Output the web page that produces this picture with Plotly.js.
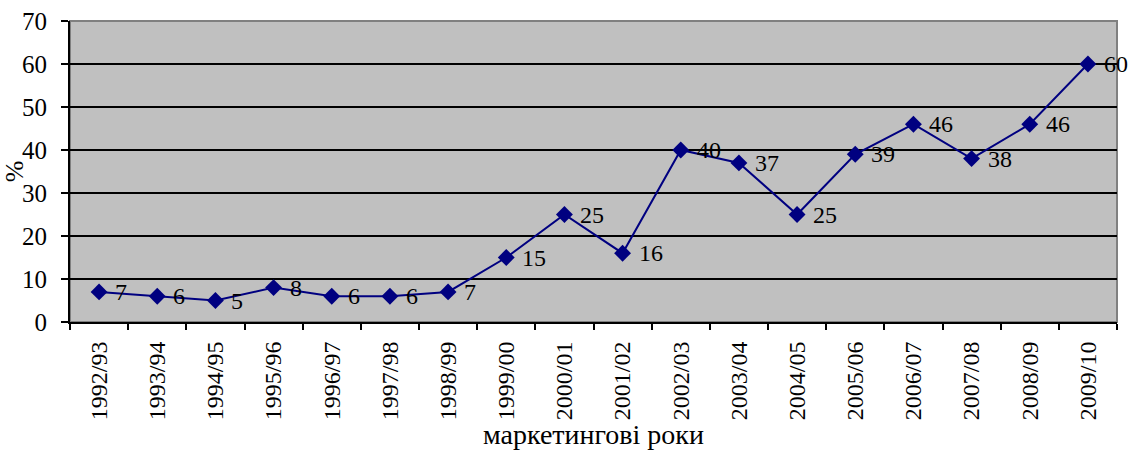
<!DOCTYPE html>
<html>
<head>
<meta charset="utf-8">
<script src="https://cdn.plot.ly/plotly-3.0.1.min.js"></script>
<style>html,body{margin:0;padding:0;background:#fff;}#chart{width:1129px;height:450px;}</style>
</head>
<body>
<div id="chart"></div>
<script>
const years = ["1992/93","1993/94","1994/95","1995/96","1996/97","1997/98","1998/99","1999/00","2000/01","2001/02","2002/03","2003/04","2004/05","2005/06","2006/07","2007/08","2008/09","2009/10"];
const values = [7,6,5,8,6,6,7,15,25,16,40,37,25,39,46,38,46,60];
const yTicks = [0,10,20,30,40,50,60,70];

const font = "'Liberation Serif', 'Times New Roman', serif";

const trace = {
  x: years,
  y: values,
  type: "scatter",
  mode: "lines+markers",
  line: {color: "#000080", width: 2},
  marker: {symbol: "diamond", size: 13, color: "#000080"},
  cliponaxis: false,
  hoverinfo: "none"
};

const labels = years.map((c, i) => ({
  x: c, y: values[i], xref: "x", yref: "y",
  text: String(values[i]), showarrow: false,
  xanchor: "left", yanchor: "middle", xshift: 14, yshift: 0,
  font: {family: font, size: 24, color: "#000"}
}));

const layout = {
  width: 1129, height: 450,
  margin: {l: 70, r: 12, t: 21, b: 128},
  paper_bgcolor: "#fff",
  plot_bgcolor: "#C0C0C0",
  showlegend: false,
  font: {family: font, color: "#000"},
  xaxis: {
    type: "category",
    tickson: "boundaries",
    ticks: "outside", ticklen: 6, tickwidth: 2, tickcolor: "#000",
    tickangle: -90,
    tickfont: {family: font, size: 24, color: "#000"},
    ticklabelstandoff: 8,
    showline: true, linecolor: "#000", linewidth: 2,
    showgrid: false,
    range: [-0.5, years.length - 0.5],
    title: {text: "маркетингові роки", font: {family: font, size: 28, color: "#000"}, standoff: 0},
    fixedrange: true
  },
  yaxis: {
    range: [0, 70],
    tickvals: yTicks,
    ticks: "outside", ticklen: 7, tickwidth: 2, tickcolor: "#000",
    tickfont: {family: font, size: 25, color: "#000"},
    ticklabelstandoff: 9,
    showline: true, linecolor: "#000", linewidth: 2,
    showgrid: true, gridcolor: "#000", gridwidth: 2,
    zeroline: false,
    title: {text: "%", font: {family: font, size: 26, color: "#000"}, standoff: 2},
    fixedrange: true
  },
  annotations: labels,
  shapes: [{
    type: "rect", xref: "paper", yref: "paper", x0: 0, x1: 1, y0: 0, y1: 1,
    line: {color: "#808080", width: 2}, layer: "below"
  }]
};

Plotly.newPlot("chart", [trace], layout, {displayModeBar: false, staticPlot: true});
</script>
</body>
</html>
